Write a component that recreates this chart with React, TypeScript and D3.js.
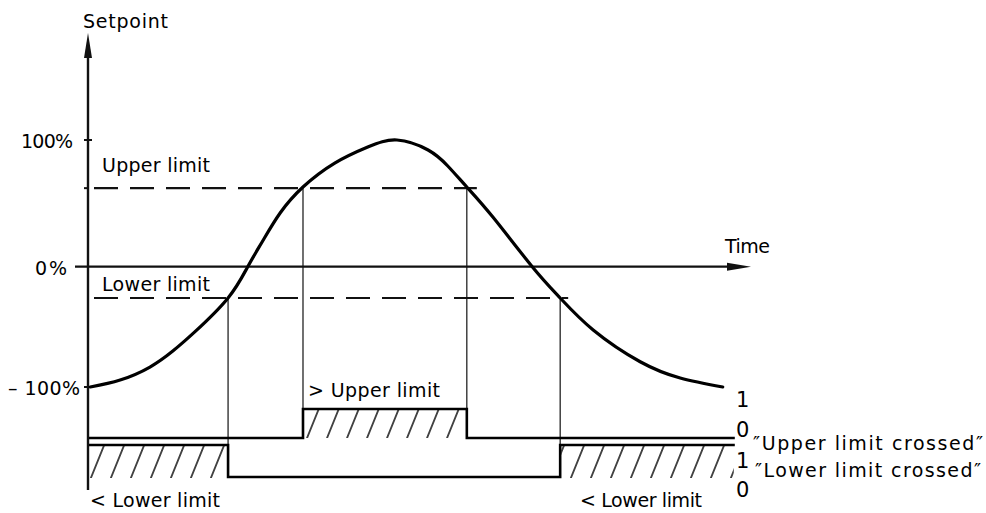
import React from "react";
import * as d3 from "d3";

// ---- data ----
const curveTime = [0.2, 4.9, 9.6, 13.2, 16.7, 21.9, 25.0, 27.4, 30.1, 33.7, 38.7, 43.9, 48.5, 53.4, 56.5, 59.5, 63.6, 69.8, 74.2, 79.4, 86.8, 93.1, 99.8];
const curveValue = [-100, -94.2, -83.4, -70.1, -54, -26, 0, 20.7, 42.4, 62.9, 81.8, 94.5, 100, 92.1, 79.5, 62.9, 39.2, 0, -26, -52.6, -79.0, -92.5, -100];

const upperLimit = 62;
const lowerLimit = -26;

const setpointTicks = [100, 0, -100];
const setpointTickLabels = ["100%", "0%", "– 100%"];

const upperCrossTimes = [0, 33.7, 59.5, 101.7];
const upperCrossStates = [0, 1, 0, 0];
const lowerCrossTimes = [0, 21.9, 74.2, 101.7];
const lowerCrossStates = [1, 0, 1, 1];

const font = "'DejaVu Sans', sans-serif";

export default function App() {
  const x = d3.scaleLinear().domain([0, 100]).range([89, 724]);
  const y = d3.scaleLinear().domain([-100, 0, 100]).range([387, 266.7, 140]);
  const yU = d3.scaleLinear().domain([0, 1]).range([438, 409]);
  const yL = d3.scaleLinear().domain([0, 1]).range([477, 445]);

  const axisX = 88;

  const curvePts = curveTime.map((t, i) => [t, curveValue[i]] as [number, number]);
  const curvePath = d3
    .line<[number, number]>()
    .x((d) => x(d[0]))
    .y((d) => y(d[1]))
    .curve(d3.curveNatural)(curvePts);

  const stepU = d3
    .line<number>()
    .x((_, i) => x(upperCrossTimes[i]))
    .y((s) => yU(s))
    .curve(d3.curveStepAfter)(upperCrossStates);
  const stepL = d3
    .line<number>()
    .x((_, i) => x(lowerCrossTimes[i]))
    .y((s) => yL(s))
    .curve(d3.curveStepAfter)(lowerCrossStates);

  const segs = (times: number[], states: number[]) =>
    states
      .map((s, i) => ({ s, t0: times[i], t1: times[i + 1] }))
      .filter((d) => d.s === 1 && d.t1 !== undefined);
  const hatchU = segs(upperCrossTimes, upperCrossStates);
  const hatchL = segs(lowerCrossTimes, lowerCrossStates);

  const upperCrossings = [upperCrossTimes[1], upperCrossTimes[2]];
  const lowerCrossings = [lowerCrossTimes[1], lowerCrossTimes[2]];

  const zeroY = y(0);

  return (
    <div style={{ position: "absolute", left: 0, top: 0 }}>
      <svg width={986} height={513} style={{ display: "block", background: "#fff" }} fontFamily={font}>
        <defs>
          <pattern id="hatch" patternUnits="userSpaceOnUse" width={20} height={10} patternTransform="skewX(-22)">
            <line x1={4} y1={-1} x2={4} y2={11} stroke="#111" strokeWidth={1.6} />
          </pattern>
        </defs>

        {/* hatching */}
        {hatchU.map((d, i) => (
          <rect key={"hu" + i} x={x(d.t0) + 1} y={yU(1)} width={x(d.t1) - x(d.t0) - 2} height={yU(0) - yU(1)} fill="url(#hatch)" />
        ))}
        {hatchL.map((d, i) => (
          <rect key={"hl" + i} x={Math.max(x(d.t0), axisX) + 1} y={yL(1)} width={x(d.t1) - Math.max(x(d.t0), axisX) - 2} height={yL(0) - yL(1) + 1} fill="url(#hatch)" />
        ))}

        {/* limit dashed lines */}
        <line x1={axisX} x2={x(upperCrossings[1]) + 10} y1={y(upperLimit)} y2={y(upperLimit)} stroke="#111" strokeWidth={2.2} strokeDasharray="24 12" strokeDashoffset={-6} />
        <line x1={axisX} x2={x(lowerCrossings[1]) + 8} y1={y(lowerLimit)} y2={y(lowerLimit)} stroke="#111" strokeWidth={2.2} strokeDasharray="24 12" strokeDashoffset={-6} />

        {/* drop lines */}
        {upperCrossings.map((t, i) => (
          <line key={"du" + i} x1={x(t)} x2={x(t)} y1={y(upperLimit)} y2={yU(0)} stroke="#111" strokeWidth={1.2} />
        ))}
        {lowerCrossings.map((t, i) => (
          <line key={"dl" + i} x1={x(t)} x2={x(t)} y1={y(lowerLimit)} y2={yL(0)} stroke="#111" strokeWidth={1.2} />
        ))}

        {/* time axis (0%) */}
        <line x1={75} x2={735} y1={zeroY} y2={zeroY} stroke="#111" strokeWidth={2.2} />
        <path d={`M ${751} ${zeroY} L ${727} ${zeroY - 4} L ${727} ${zeroY + 4} Z`} fill="#111" />

        {/* setpoint axis */}
        <line x1={axisX} x2={axisX} y1={490} y2={50} stroke="#111" strokeWidth={2.4} />
        <path d={`M ${axisX} ${33} L ${axisX - 4} ${58} L ${axisX + 4} ${58} Z`} fill="#111" />
        {setpointTicks.filter((v) => v !== 0).map((v) => (
          <line key={"t" + v} x1={axisX - 4} x2={axisX + 4} y1={y(v)} y2={y(v)} stroke="#111" strokeWidth={2} />
        ))}
        <line x1={axisX - 4} x2={axisX} y1={y(upperLimit)} y2={y(upperLimit)} stroke="#111" strokeWidth={2} />

        {/* setpoint curve */}
        <path d={curvePath || ""} fill="none" stroke="#000" strokeWidth={3.2} strokeLinecap="round" />

        {/* binary signals */}
        <path d={stepU || ""} fill="none" stroke="#000" strokeWidth={2.6} />
        <path d={stepL || ""} fill="none" stroke="#000" strokeWidth={2.6} />

        {/* texts */}
        <g fill="#000" fontSize={19}>
          <text x={83} y={28} textLength={85}>Setpoint</text>
          <text x={21} y={148} textLength={52}>{setpointTickLabels[0]}</text>
          <text x={35} y={275} textLength={32}>{setpointTickLabels[1]}</text>
          <text x={8} y={395} textLength={72}>{setpointTickLabels[2]}</text>
          <text x={102} y={172} textLength={108}>Upper limit</text>
          <text x={102} y={291} textLength={108}>Lower limit</text>
          <text x={725} y={253} textLength={45}>Time</text>
          <text x={308} y={397} textLength={132}>&gt; Upper limit</text>
          <text x={90} y={507} textLength={130}>&lt; Lower limit</text>
          <text x={580} y={507} textLength={122}>&lt; Lower limit</text>
          <g fontSize={21}>
            <text x={736} y={407}>1</text>
            <text x={736} y={437}>0</text>
            <text x={736} y={468}>1</text>
            <text x={736} y={497}>0</text>
          </g>
          <text x={753} y={450} textLength={230}>″Upper limit crossed″</text>
          <text x={755} y={477} textLength={226}>″Lower limit crossed″</text>
        </g>
      </svg>
    </div>
  );
}
